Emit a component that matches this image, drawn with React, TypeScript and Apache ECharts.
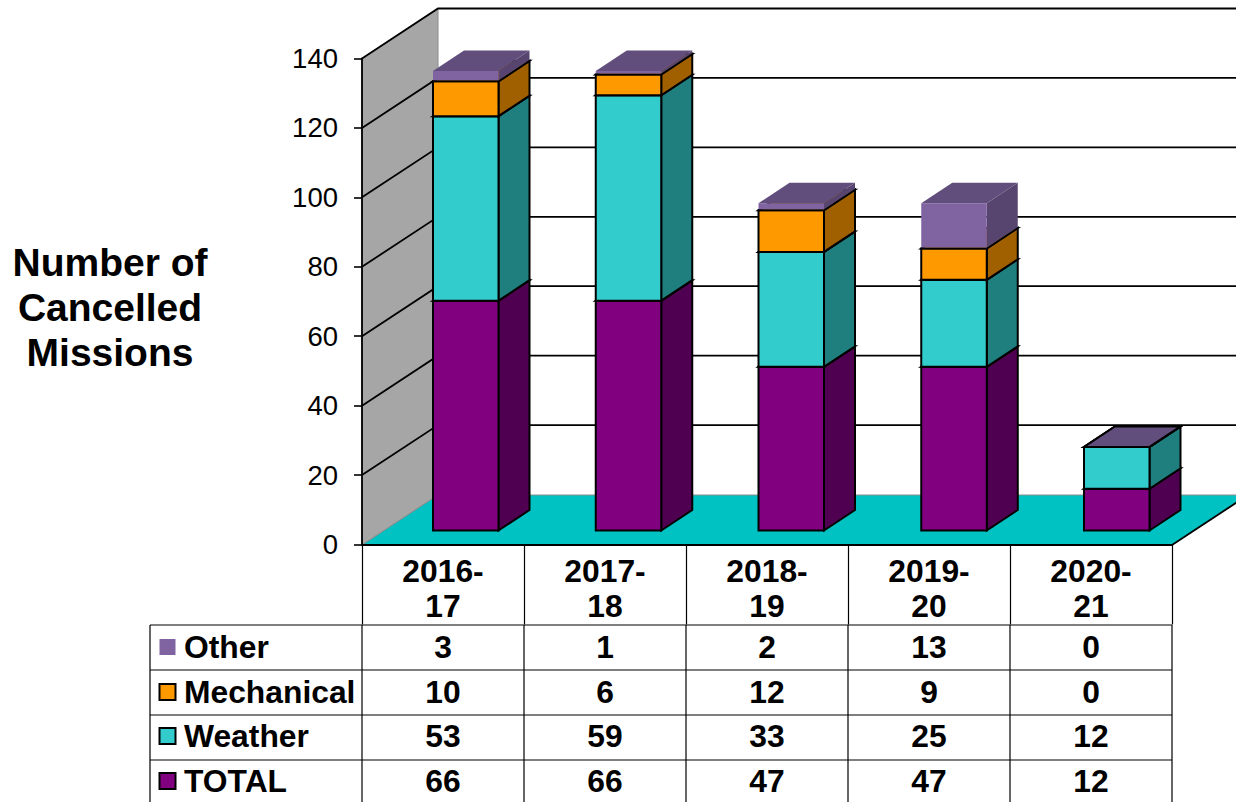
import React, { useEffect, useRef } from "react";
import * as echarts from "echarts";

const categories = ["2016-\n17", "2017-\n18", "2018-\n19", "2019-\n20", "2020-\n21"];
const other = [3, 1, 2, 13, 0];
const mechanical = [10, 6, 12, 9, 0];
const weather = [53, 59, 33, 25, 12];
const total = [66, 66, 47, 47, 12];
const yTicks = [0, 20, 40, 60, 80, 100, 120, 140];
const rowNames = ["Other", "Mechanical", "Weather", "TOTAL"];
const rowValues = [other, mechanical, weather, total];

const FONT = "'Liberation Sans', Arial, sans-serif";
const WALL_DX = 76;
const WALL_DY = -50;
const BAR_DX = 22.75;
const BAR_STEP_EXTRA = 0.75;
const BAR_DY = -14;
const BAR_YSCALE = 1.003;
const BAR_W = 65.5;
const SIDE_DX = 31;
const SIDE_DY = -20.5;

const palette = {
  TOTAL: { front: "#800080", side: "#500050", top: "#500050", stroke: "#000" },
  Weather: { front: "#33CCCC", side: "#1F7F7F", top: "#1F7F7F", stroke: "#000" },
  Mechanical: { front: "#FF9900", side: "#A06000", top: "#A06000", stroke: "#000" },
  Other: { front: "#8064A2", side: "#57456F", top: "#624E7C", stroke: "none" },
};

function segment(name: keyof typeof palette, values: number[], bases: number[], z: number) {
  const colors = palette[name];
  return {
    type: "custom",
    name,
    z,
    clip: false,
    encode: { x: 0, y: [1, 2] },
    data: values.map((v, i) => [i, bases[i], bases[i] + v]),
    renderItem: (_p: any, api: any) => {
      const i = api.value(0);
      const from = api.value(1);
      const to = api.value(2);
      const origin = api.coord([i, 0]);
      const a = api.coord([i, from]);
      const b = api.coord([i, to]);
      const x0 = a[0] + BAR_DX + i * BAR_STEP_EXTRA - BAR_W / 2;
      const x1 = x0 + BAR_W;
      const inset = colors.stroke === "none" ? 1 : 0;
      const yb = origin[1] + (a[1] - origin[1]) * BAR_YSCALE + BAR_DY - inset;
      const yt = origin[1] + (b[1] - origin[1]) * BAR_YSCALE + BAR_DY;
      const empty = from === to;
      const stroke = colors.stroke === "none" ? (empty ? "#000" : "none") : colors.stroke;
      const lw = 2;
      const children: any[] = [];
      if (!empty) {
        children.push({
          type: "polygon",
          shape: { points: [[x1, yb], [x1 + SIDE_DX, yb + SIDE_DY], [x1 + SIDE_DX, yt + SIDE_DY], [x1, yt]] },
          style: { fill: colors.side, stroke, lineWidth: lw },
        });
        children.push({
          type: "polygon",
          shape: { points: [[x0, yb], [x1, yb], [x1, yt], [x0, yt]] },
          style: { fill: colors.front, stroke, lineWidth: lw },
        });
      }
      children.push({
        type: "polygon",
        shape: { points: [[x0, yt], [x1, yt], [x1 + SIDE_DX, yt + SIDE_DY], [x0 + SIDE_DX, yt + SIDE_DY]] },
        style: { fill: colors.top, stroke, lineWidth: lw },
      });
      return { type: "group", children };
    },
  };
}

function buildOption() {
  const base1 = total;
  const base2 = total.map((v, i) => v + weather[i]);
  const base3 = base2.map((v, i) => v + mechanical[i]);

  const graphic: any[] = [];
  const line = (x1: number, y1: number, x2: number, y2: number) =>
    graphic.push({
      type: "line",
      shape: { x1, y1, x2, y2 },
      style: { stroke: "#000", lineWidth: 1.2 },
    });
  const rowY = [625, 670, 715, 760, 802];
  const colX = [362, 524, 686, 848, 1010, 1172];
  rowY.slice(0, 4).forEach((y) => line(150, y, 1172, y));
  line(150, 625, 150, 802);
  colX.forEach((x) => line(x, 625, x, 802));

  const textY = [647, 692, 736, 781];
  const keyColors = [palette.Other.front, palette.Mechanical.front, palette.Weather.front, palette.TOTAL.front];
  rowNames.forEach((name, r) => {
    graphic.push({
      type: "rect",
      shape: { x: 159.5, y: textY[r] - 8, width: 16, height: 16 },
      style: { fill: keyColors[r], stroke: r === 0 ? "none" : "#000", lineWidth: 2 },
    });
    graphic.push({
      type: "text",
      x: 184,
      y: textY[r],
      style: {
        text: name,
        fill: "#000",
        font: `bold 31.8px ${FONT}`,
        textAlign: "left",
        textVerticalAlign: "middle",
      },
    });
    rowValues[r].forEach((v, c) => {
      graphic.push({
        type: "text",
        x: (colX[c] + colX[c + 1]) / 2,
        y: textY[r],
        style: {
          text: String(v),
          fill: "#000",
          font: `bold 31.8px ${FONT}`,
          textAlign: "center",
          textVerticalAlign: "middle",
        },
      });
    });
  });

  return {
    animation: false,
    backgroundColor: "#fff",
    title: {
      text: "Number of\nCancelled\nMissions",
      left: 105,
      top: 235,
      textAlign: "center",
      textStyle: { fontFamily: FONT, fontWeight: "bold", fontSize: 39, lineHeight: 45, color: "#000", align: "center" },
    },
    grid: { left: 362, top: 58.5, width: 810, height: 486 },
    xAxis: {
      type: "category",
      data: categories,
      axisLine: { show: true, lineStyle: { color: "#000", width: 1.8 } },
      axisTick: { show: true, length: 80, lineStyle: { color: "#000", width: 1.2 } },
      axisLabel: {
        interval: 0,
        margin: 9,
        fontFamily: FONT,
        fontWeight: "bold",
        fontSize: 31.8,
        lineHeight: 35,
        color: "#000",
      },
      splitLine: { show: false },
      z: 8,
    },
    yAxis: {
      type: "value",
      min: 0,
      max: 140,
      interval: 20,
      axisLine: { show: true, lineStyle: { color: "#000", width: 1.8 } },
      axisTick: { show: true, length: 8, lineStyle: { color: "#000", width: 1.6 } },
      axisLabel: { margin: 24, fontFamily: FONT, fontSize: 27.5, color: "#000" },
      splitLine: { show: false },
      z: 8,
    },
    graphic,
    series: [
      {
        type: "custom",
        name: "Frame",
        z: 1,
        clip: false,
        silent: true,
        data: [[0, 0]],
        renderItem: (_p: any, api: any) => {
          const size = api.size([1, 0])[0];
          const left = api.coord([0, 0])[0] - size / 2;
          const right = api.coord([categories.length - 1, 0])[0] + size / 2;
          const y0 = api.coord([0, 0])[1] + 0.5;
          const yTop = api.coord([0, 140])[1];
          return {
            type: "group",
            children: [
              {
                type: "polygon",
                shape: { points: [[left, yTop], [left + WALL_DX, yTop + WALL_DY], [left + WALL_DX, y0 + WALL_DY], [left, y0]] },
                style: { fill: "#A6A6A6", stroke: "#8C8C8C", lineWidth: 1 },
              },
              {
                type: "polygon",
                shape: {
                  points: [[left, y0], [right, y0], [right + WALL_DX, y0 + WALL_DY], [left + WALL_DX, y0 + WALL_DY]],
                },
                style: { fill: "#00C2C2", stroke: "#8C8C8C", lineWidth: 1 },
              },
              {
                type: "line",
                shape: { x1: right, y1: y0, x2: right + WALL_DX, y2: y0 + WALL_DY },
                style: { stroke: "#000", lineWidth: 1.8 },
              },
            ],
          };
        },
      },
      {
        type: "custom",
        name: "Gridlines",
        z: 2,
        clip: false,
        silent: true,
        data: yTicks.map((t) => [0, t]),
        renderItem: (_p: any, api: any) => {
          const t = api.value(1);
          const size = api.size([1, 0])[0];
          const p = api.coord([0, t]);
          const left = p[0] - size / 2;
          const right = api.coord([categories.length - 1, t])[0] + size / 2;
          if (t === 0) return { type: "group", children: [] };
          return {
            type: "polyline",
            shape: { points: [[left, p[1]], [left + WALL_DX, p[1] + WALL_DY], [right + WALL_DX, p[1] + WALL_DY]] },
            style: { fill: "none", stroke: "#000", lineWidth: 1.8 },
          };
        },
      },
      segment("TOTAL", total, total.map(() => 0), 3),
      segment("Weather", weather, base1, 4),
      segment("Mechanical", mechanical, base2, 5),
      segment("Other", other, base3, 6),
    ],
  };
}

export default function App() {
  const ref = useRef<HTMLDivElement>(null);
  useEffect(() => {
    document.body.style.margin = "0";
    const chart = echarts.init(ref.current!, undefined, { renderer: "svg" });
    chart.setOption(buildOption() as any);
    return () => chart.dispose();
  }, []);
  return <div ref={ref} style={{ width: 1236, height: 802, overflow: "hidden" }} />;
}
